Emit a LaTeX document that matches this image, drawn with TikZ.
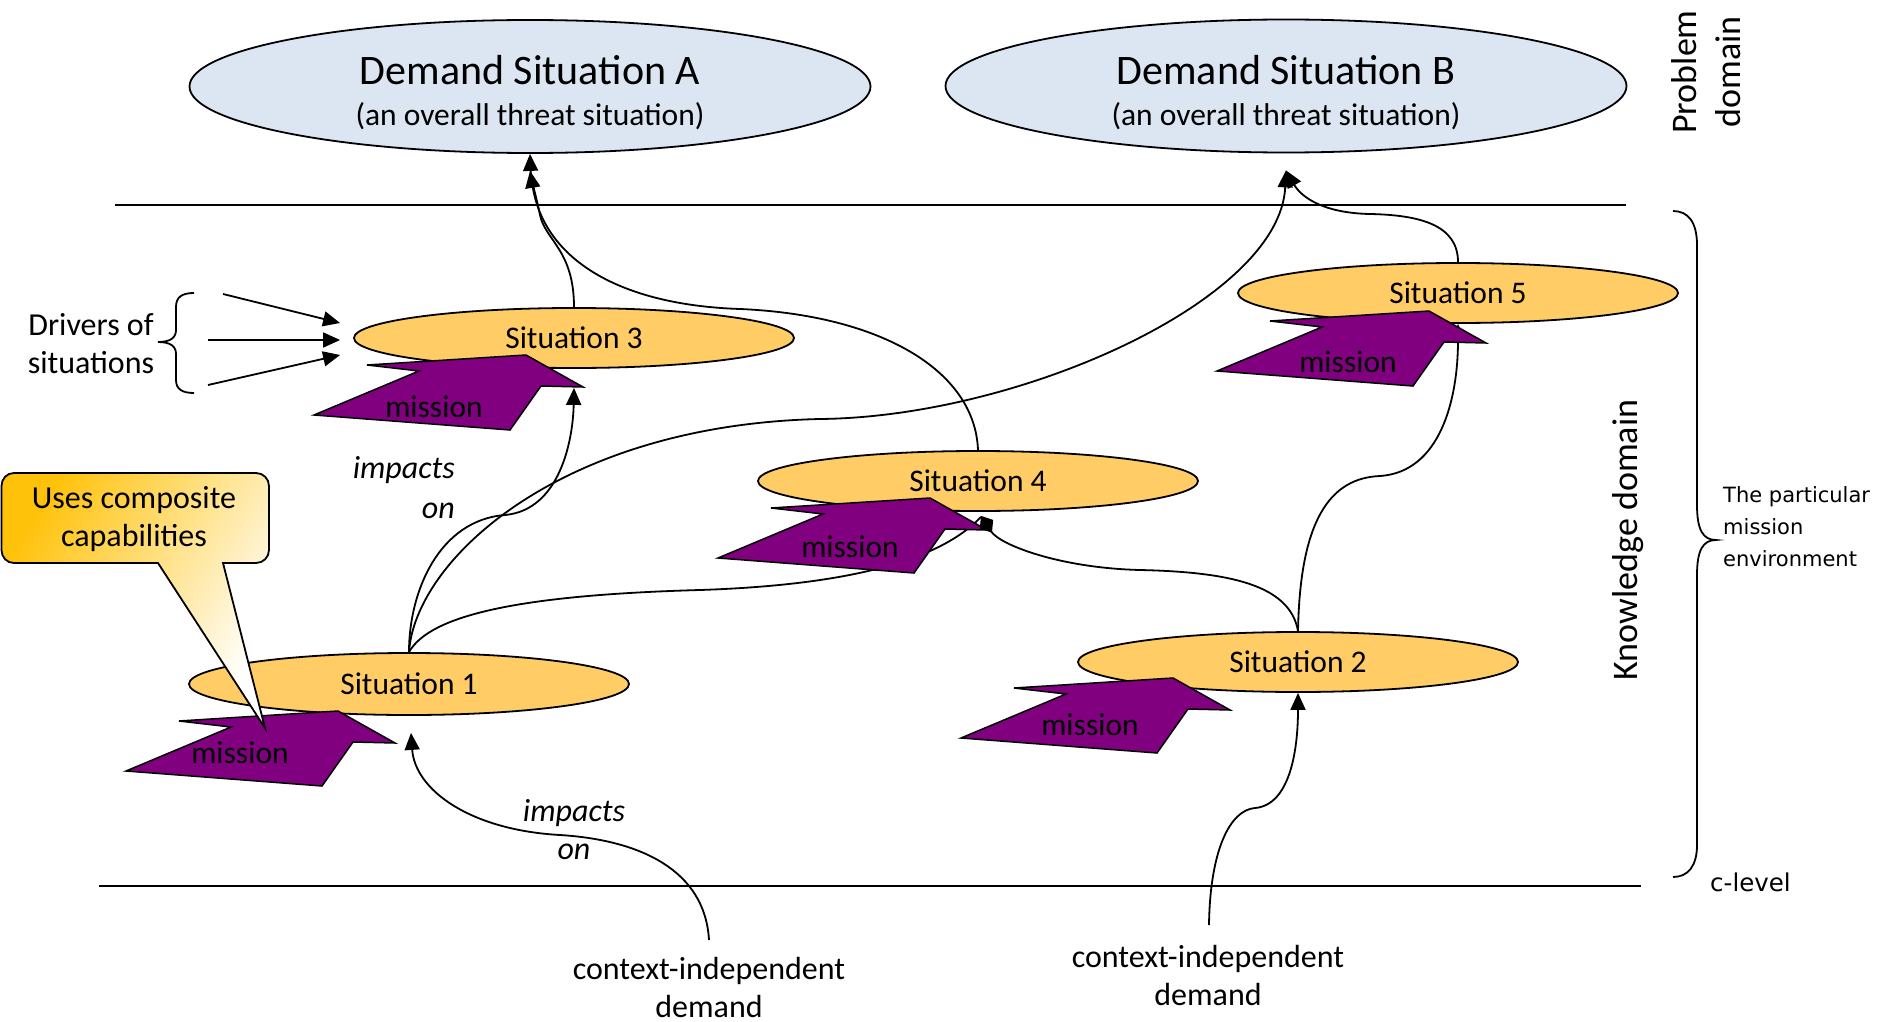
\documentclass[tikz,border=0pt]{standalone}
\usepackage{fontspec}
\setmainfont{Carlito}
\newfontfamily\notefont{DejaVu Sans}
\usetikzlibrary{shapes.geometric,arrows.meta}
\definecolor{sitfill}{HTML}{FFCC66}
\definecolor{demfill}{HTML}{DCE6F2}
\definecolor{misfill}{HTML}{800080}
\definecolor{callgold}{HTML}{FFC20A}
\definecolor{callmid}{HTML}{FFE9BA}
\tikzset{
  sit/.style={ellipse, draw, line width=1.8pt, fill=sitfill, minimum width=440pt,
    minimum height=60pt, inner sep=0pt, font=\fontsize{31.5}{38}\selectfont},
  dem/.style={ellipse, draw, line width=1.8pt, fill=demfill, minimum width=681pt,
    minimum height=133pt, inner sep=0pt},
  link/.style={line width=1.8pt},
  arr/.style={link, -{Triangle[length=17pt,width=15pt]}},
  dia/.style={link, -{Diamond[length=20pt,width=16pt]}},
  lbl/.style={font=\fontsize{32}{38}\selectfont, align=center, inner sep=0pt},
  rule/.style={line width=2.2pt},
  pics/mission/.style={code={
    \filldraw[fill=misfill, draw=black, line width=1.5pt]
      (0,0) -- (-159,10) -- (-107,16) -- (-212,60) -- (-16,75) -- (15,31) -- (57,32) -- cycle;
    \node[lbl, font=\fontsize{31.5}{38}\selectfont] (-txt) at (#1) {mission};
  }},
}
\begin{document}
\begin{tikzpicture}[x=1pt, y=-1pt]
\useasboundingbox (0,0) rectangle (1879,1022);

% problem domain: demand situations
\node[dem] (dA) at (530,86.5) {};
\node[dem] (dB) at (1286,86) {};
\node[lbl, font=\fontsize{42}{50}\selectfont] (dAt) at (530,70) {Demand Situation A};
\node[lbl, font=\fontsize{31.5}{38}\selectfont] (dAs) at (530,116) {(an overall threat situation)};
\node[lbl, font=\fontsize{42}{50}\selectfont] (dBt) at (1286,70) {Demand Situation B};
\node[lbl, font=\fontsize{31.5}{38}\selectfont] (dBs) at (1286,116) {(an overall threat situation)};

% domain boundaries
\coordinate (pl) at (115,205);
\coordinate (pr) at (1626,205);
\coordinate (cl) at (99,886);
\coordinate (cr) at (1641,886);
\draw[rule] (pl) -- (pr);
\draw[rule] (cl) -- (cr);

% situations
\node[sit, minimum height=62pt] (s1) at (409,684) {Situation 1};
\node[sit] (s2) at (1298,662) {Situation 2};
\node[sit] (s3) at (574,338) {Situation 3};
\node[sit] (s4) at (978,481) {Situation 4};
\node[sit] (s5) at (1458,293) {Situation 5};

% relations between situations
\draw[arr] (s1.north) .. controls (409,590) and (440,520) .. (505,515)
  .. controls (560,510) and (573,440) .. ([yshift=-19pt]s3.south);
\draw[arr] (s1.north) .. controls (415,560) and (560,425) .. (820,419)
  .. controls (1020,417) and (1280,300) .. ([yshift=-17pt]dB.south);
\draw[link] (s1.north) .. controls (430,615) and (520,595) .. (700,590)
  .. controls (850,585) and (940,560) .. ([shift={(3pt,-5pt)}]s4.south);
\draw[arr] (s2.north) .. controls (1300,520) and (1330,478) .. (1380,476)
  .. controls (1440,472) and (1458,400) .. (s5.south);
\draw[arr] (s5.north) .. controls (1458,225) and (1420,215) .. (1370,214)
  .. controls (1320,213) and (1300,195) .. ([yshift=-17pt]dB.south);
\draw[arr] (s3.north) .. controls (574,250) and (545,240) .. (540,215)
  .. controls (536,195) and (531,180) .. (dA.south);
\draw[arr] (s4.north) .. controls (975,370) and (880,315) .. (740,309)
  .. controls (620,305) and (545,260) .. ([yshift=-17pt]dA.south);

% context-independent demands
\node[lbl] (cd1) at (709,987) {context-independent\\demand};
\node[lbl] (cd2) at (1208,975) {context-independent\\demand};
\coordinate (cd1top) at (709,940);
\coordinate (cd2top) at (1209,925);
\draw[arr] (cd1top) .. controls (705,870) and (640,840) .. (560,835)
  .. controls (470,830) and (415,790) .. ([shift={(2pt,-17pt)}]s1.south);
\draw[arr] (cd2top) .. controls (1210,850) and (1230,810) .. (1255,808)
  .. controls (1290,805) and (1298,750) .. (s2.south);

% impact labels
\node[lbl, align=right, anchor=east, font={\fontsize{32}{40}\selectfont\itshape}] (imp1) at (455,488) {impacts\\on};
\node[lbl, font={\fontsize{32}{38}\selectfont\itshape}] (imp2) at (574,830) {impacts\\on};

% drivers of situations
\node[lbl] (drv) at (91,344) {Drivers of\\situations};
\draw[link] (194,293) .. controls (182,293) and (176,297) .. (176,307) -- (176,330)
  .. controls (176,338) and (170,342) .. (158,342)
  .. controls (170,342) and (176,346) .. (176,354) -- (176,380)
  .. controls (176,389) and (182,393) .. (194,393);
\coordinate (dr1) at (223,294);
\coordinate (dr2) at (208,340);
\coordinate (dr3) at (208,385);
\draw[arr] (dr1) -- ([shift={(-13pt,15pt)}]s3.west);
\draw[arr] (dr2) -- ([shift={(-13pt,-2pt)}]s3.west);
\draw[arr] (dr3) -- ([shift={(-13pt,-17pt)}]s3.west);

% missions
\pic (m1) at (338,711) {mission={-98,42}};
\pic (m3) at (526,355) {mission={-92,52}};
\pic (m4) at (930,498) {mission={-80,49}};
\pic (m2) at (1173,678) {mission={-83,47}};
\pic (m5) at (1429,311) {mission={-81,51}};

% Situation 2 feeds Situation 4 (diamond end lies over the mission wing)
\draw[dia] (s2.north) .. controls (1290,585) and (1230,572) .. (1140,570)
  .. controls (1060,568) and (1000,545) .. ([shift={(3pt,-4pt)}]s4.south);

% callout
\shadedraw[left color=callgold, middle color=callmid, right color=white, shading angle=58,
  draw=black, line width=1.8pt]
  (14,473) -- (256,473) .. controls (263.2,473) and (269,478.8) .. (269,486)
  -- (269,550) .. controls (269,557.2) and (263.2,563) .. (256,563)
  -- (223,563) -- (265,728) -- (158,563) -- (14,563)
  .. controls (6.8,563) and (1.5,557.2) .. (1.5,550) -- (1.5,486)
  .. controls (1.5,478.8) and (6.8,473) .. (14,473) -- cycle;
\node[lbl] (cal) at (134,519) {Uses composite\\capabilities};

% side annotations
\node[lbl, rotate=90, font=\fontsize{36}{44}\selectfont] (pd) at (1706,72) {Problem\\domain};
\node[lbl, rotate=90, font=\fontsize{36}{44}\selectfont] (kd) at (1628,540) {Knowledge domain};
\draw[link] (1673,211) .. controls (1688,211) and (1697,222) .. (1697,245) -- (1697,505)
  .. controls (1697,530) and (1703,540) .. (1716,540)
  .. controls (1703,540) and (1697,550) .. (1697,575) -- (1697,845)
  .. controls (1697,866) and (1688,877) .. (1673,877);
\node[anchor=west, align=left, inner sep=0pt, font={\notefont\fontsize{21}{32}\selectfont}] (pme) at (1723,527) {The particular\\mission\\environment};
\node[anchor=west, inner sep=0pt, font={\notefont\fontsize{24.5}{30}\selectfont}] (clv) at (1710,882) {c-level};
\end{tikzpicture}
\end{document}
